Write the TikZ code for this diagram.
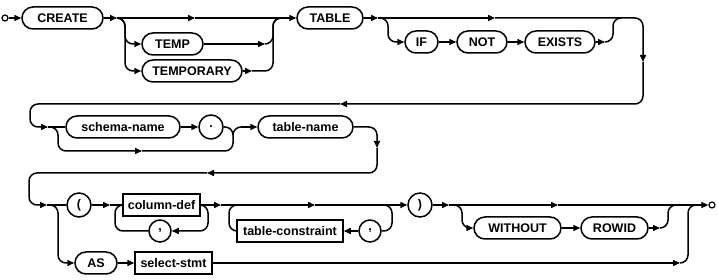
\documentclass[tikz,border=0pt]{standalone}
\usepackage{fontspec}
\setmainfont{Liberation Sans}
\usetikzlibrary{arrows.meta}

\begin{document}
\begin{tikzpicture}[
  x=1pt, y=-1pt,
  every node/.style={align=center, font=\bfseries\fontsize{12.5}{14}\selectfont},
  kw/.style={draw, line width=1.5pt, rounded corners=11pt, minimum height=22pt, inner sep=0pt},
  nt/.style={draw, line width=1.5pt, minimum height=22pt, inner sep=0pt},
  pn/.style={draw, circle, line width=1.5pt, minimum size=24pt, inner sep=0pt},
  term/.style={draw, circle, line width=1.2pt, minimum size=6pt, inner sep=0pt},
  rail/.style={line width=1.5pt, rounded corners=8pt},
  arr/.style={rail, -{Triangle[length=7pt, width=6pt]}}
]
\useasboundingbox (0,0) rectangle (718,280);

% Row 1
\node[term] (start) at (5,18) {};
\node[kw, minimum width=81pt] (create) at (62.5,18) {CREATE};
\node[kw, minimum width=61pt] (temp) at (172.5,44) {TEMP};
\node[kw, minimum width=100pt] (temporary) at (192,71) {TEMPORARY};
\node[kw, minimum width=66pt] (table) at (330,18) {TABLE};
\node[kw, minimum width=33pt] (ifk) at (421.5,42) {IF};
\node[kw, minimum width=50pt] (notk) at (482,42) {NOT};
\node[kw, minimum width=70pt] (exk) at (560,42) {EXISTS};

% Row 2
\node[kw, minimum width=114pt] (schema) at (123,127) {schema-name};
\node[pn] (dot) at (211,127) {.};
\node[kw, minimum width=95pt] (tname) at (305.5,127) {table-name};

% Row 3
\node[pn] (lp) at (79,205) {(};
\node[nt, minimum width=77pt] (coldef) at (161.5,205) {column-def};
\node[pn, minimum size=22pt] (cma) at (160,231) {,};
\node[nt, minimum width=106pt] (tcons) at (290,231) {table-constraint};
\node[pn, minimum size=22pt] (cmb) at (370,231) {,};
\node[pn] (rp) at (420,205) {)};
\node[kw, minimum width=87pt] (without) at (517.5,228) {WITHOUT};
\node[kw, minimum width=67pt] (rowid) at (614.5,228) {ROWID};
\node[kw, minimum width=42pt] (as) at (96,263) {AS};
\node[nt, minimum width=77pt] (select) at (173.5,263) {select-stmt};
\node[term] (stop) at (712,205) {};

% Junctions
\coordinate (ja) at (117,18);
\coordinate (jb) at (195,18);
\coordinate (jh) at (265,44);
\coordinate (ji) at (252,71);
\coordinate (jc) at (378,18);
\coordinate (jd) at (495,18);
\coordinate (jj) at (605,42);
\coordinate (je) at (643,62);
\coordinate (jf) at (340,104);
\coordinate (jg) at (48,127);
\coordinate (jk) at (142,151);
\coordinate (jl) at (241,127);
\coordinate (jm) at (377,148);
\coordinate (jn) at (207,173);
\coordinate (jo) at (47,205);
\coordinate (jp) at (110,205);
\coordinate (jq) at (221,205);
\coordinate (jr) at (315,205);
\coordinate (js) at (384,205);
\coordinate (jt) at (449,205);
\coordinate (ju) at (558,205);
\coordinate (jv) at (660,228);
\coordinate (jw) at (680,263);

% Row 1 rails
\draw[arr] (start) -- (create);
\draw[arr] (create) -- (ja);
\draw[arr] (ja) -- (jb);
\draw[arr] (jb) -- (table);
\draw[arr] (ja) -- (125,18) |- (temp.west);
\draw[arr] (ja) -- (125,18) |- (temporary.west);
\draw[arr] (temp) -- (jh);
\draw[rail] (jh) -- (273,44) -- (273,18) -- (281,18);
\draw[arr] (temporary) -- (ji);
\draw[rail] (ji) -- (273,71) -- (273,18) -- (281,18);
\draw[arr] (table) -- (jc);
\draw[arr] (jc) -- (jd);
\draw[arr] (jc) -- (388,18) |- (ifk.west);
\draw[arr] (ifk) -- (notk);
\draw[arr] (notk) -- (exk);
\draw[arr] (exk) -- (jj);
\draw[rail] (jj) -- (613,42) -- (613,18) -- (621,18);
\draw[arr] (jd) -- (643,18) -- (je);
\draw[arr] (je) -- (643,104) -- (jf);
\draw[arr] (jf) -- (30,104) -- (30,127) -- (jg);

% Row 2 rails
\draw[rail] (jg) -- (schema);
\draw[arr] (jg) -- (58,127) |- (jk);
\draw[rail] (jk) -- (233,151) -- (233,127) -- (jl);
\draw[arr] (schema) -- (dot);
\draw[rail] (dot) -- (233,127) -- (233,135);
\draw[arr] (jl) -- (tname);
\draw[arr] (tname) -- (377,127) -- (jm);
\draw[arr] (jm) -- (377,173) -- (jn);
\draw[arr] (jn) -- (29,173) -- (29,205) -- (jo);

% Row 3 rails
\draw[rail] (jo) -- (lp);
\draw[arr] (jo) -- (58,205) |- (as.west);
\draw[arr] (lp) -- (jp);
\draw[rail] (jp) -- (coldef);
\draw[arr] (coldef.east) -- (208,205) -- (208,231) -- (cma.east);
\draw[rail] (cma.west) -- (115,231) -- (115,205) -- (coldef.west);
\draw[arr] (coldef) -- (jq);
\draw[arr] (jq) -- (jr);
\draw[arr] (jr) -- (rp);
\draw[rail] (js) -- (392,205) -- (392,231) -- (cmb.east);
\draw[arr] (cmb) -- (tcons);
\draw[rail] (tcons.west) -- (229,231) -- (229,205) -- (237,205);
\draw[arr] (rp) -- (jt);
\draw[arr] (jt) -- (ju);
\draw[arr] (ju) -- (stop);
\draw[arr] (jt) -- (462,205) |- (without.west);
\draw[arr] (without) -- (rowid);
\draw[arr] (rowid) -- (jv);
\draw[rail] (jv) -- (668,228) -- (668,205) -- (676,205);
\draw[arr] (as) -- (select);
\draw[arr] (select) -- (jw);
\draw[rail] (jw) -- (688,263) -- (688,205) -- (696,205);
\end{tikzpicture}
\end{document}
